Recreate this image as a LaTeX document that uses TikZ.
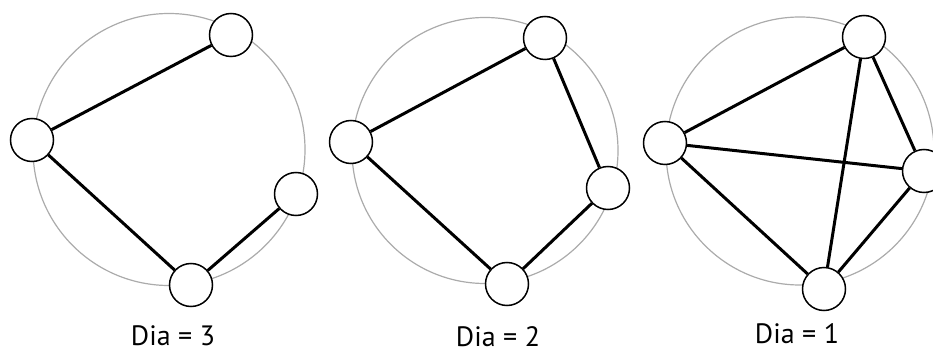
\documentclass[tikz,border=0pt]{standalone}
\usepackage{fontspec}
\setmainfont{PT Sans}
\begin{document}
\begin{tikzpicture}[x=1pt,y=-1pt,
  vtx/.style={circle,draw=black,line width=1.5pt,fill=white,minimum size=43pt,inner sep=0pt},
  edge/.style={line width=3pt,black},
  ring/.style={draw=black!33,line width=1.2pt},
  lbl/.style={font=\fontsize{28}{32}\selectfont,inner sep=0pt,anchor=base}]
\useasboundingbox (0,0) rectangle (933,347);
% panel 1
\draw[ring] (169,149.5) circle[radius=136];
\node[vtx] (a1) at (231,35) {};
\node[vtx] (b1) at (32,140) {};
\node[vtx] (c1) at (296,194) {};
\node[vtx] (d1) at (191,285) {};
\draw[edge] (a1) -- (b1);
\draw[edge] (b1) -- (d1);
\draw[edge] (d1) -- (c1);
\node[lbl] (l1) at (173,345) {Dia = 3};
% panel 2
\draw[ring] (485,150.5) circle[radius=133];
\node[vtx] (a2) at (545,38) {};
\node[vtx] (b2) at (351,142) {};
\node[vtx] (c2) at (608,188) {};
\node[vtx] (d2) at (507,284) {};
\draw[edge] (a2) -- (b2);
\draw[edge] (a2) -- (c2);
\draw[edge] (b2) -- (d2);
\draw[edge] (c2) -- (d2);
\node[lbl] (l2) at (498,346) {Dia = 2};
% panel 3
\draw[ring] (800,151) circle[radius=134];
\node[vtx] (a3) at (864,37) {};
\node[vtx] (b3) at (665,143) {};
\node[vtx] (c3) at (924,171) {};
\node[vtx] (d3) at (824,289) {};
\draw[edge] (a3) -- (b3);
\draw[edge] (a3) -- (c3);
\draw[edge] (a3) -- (d3);
\draw[edge] (b3) -- (c3);
\draw[edge] (b3) -- (d3);
\draw[edge] (c3) -- (d3);
\node[lbl] (l3) at (797,343) {Dia = 1};
\end{tikzpicture}
\end{document}
